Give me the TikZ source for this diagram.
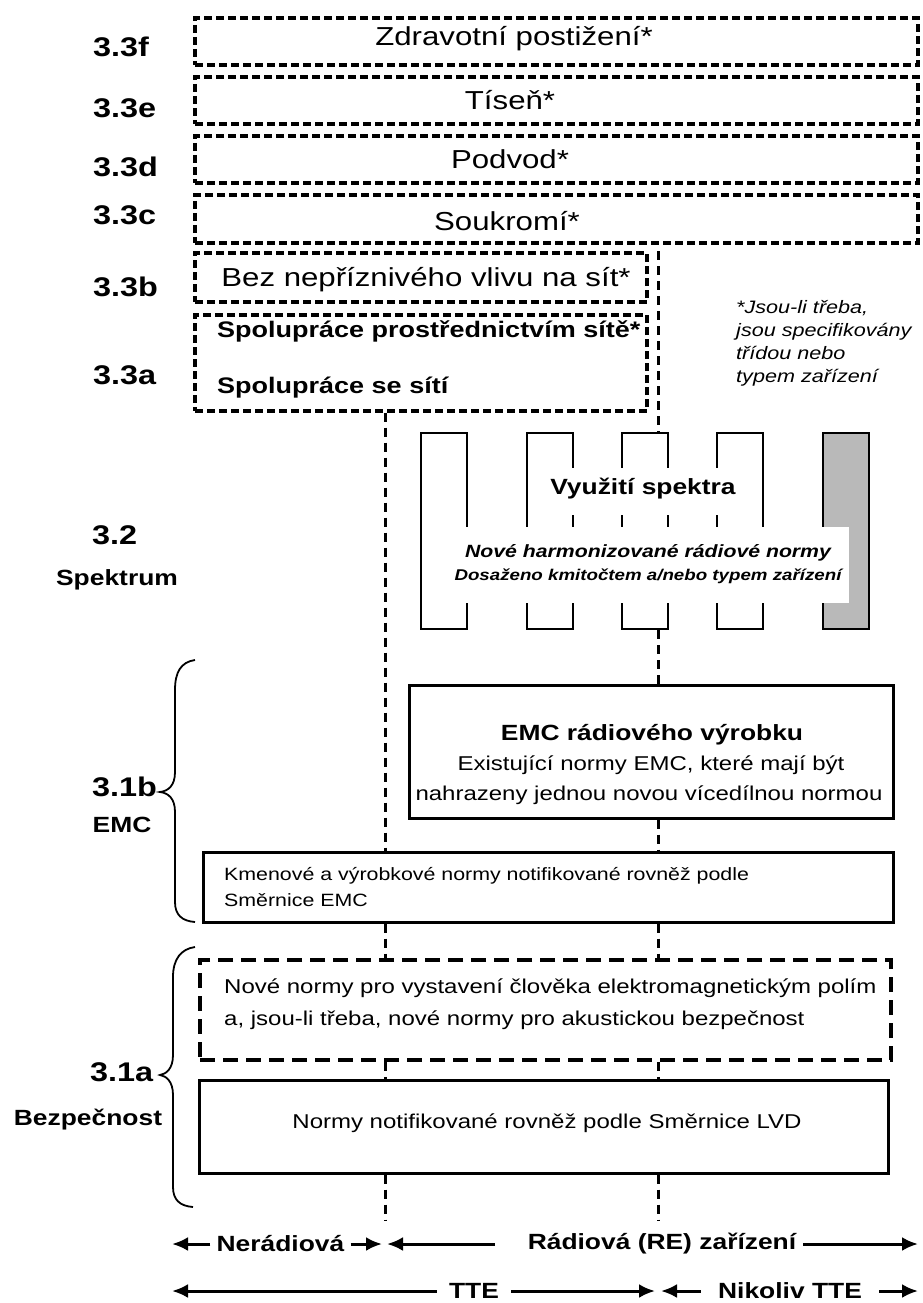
\documentclass[tikz,border=0pt]{standalone}
\usepackage{fontspec}
\setmainfont{Liberation Sans}[FakeStretch=1.2]
\usetikzlibrary{arrows.meta}
\newcommand{\fsz}[1]{\fontsize{#1}{#1}\selectfont}
\begin{document}
\begin{tikzpicture}[x=1pt,y=-1pt,>={Latex[length=16pt,width=14pt]},
	lbl/.style={font=\fsz{27}\bfseries,anchor=west,inner sep=0pt},
	sublbl/.style={font=\fsz{22}\bfseries,inner sep=0pt},
	dbox/.style={draw,line width=3.2pt,dash pattern=on 8pt off 4pt,inner sep=0pt},
	nbox/.style={draw,line width=3.5pt,dash pattern=on 15pt off 8pt,inner sep=0pt},
	sbox/.style={draw,line width=3pt,inner sep=0pt},
	conn/.style={line width=3pt,dash pattern=on 9pt off 6pt},
	col/.style={draw,line width=2.8pt,minimum width=46pt,minimum height=196pt,inner sep=0pt},
	mask/.style={fill=white,inner sep=0pt},
	txt/.style={inner sep=0pt},
	btm/.style={font=\fsz{22}\bfseries,inner ysep=0pt},
	arw/.style={->,line width=3pt}]
	\useasboundingbox (0,0) rectangle (922,1303);
	\coordinate (lx) at (385,0); \coordinate (rx) at (658,0);
	\node[lbl] (l3f) at (93,47) {3.3f};
	\node[lbl] (l3e) at (93,108) {3.3e};
	\node[lbl] (l3d) at (93,167) {3.3d};
	\node[lbl] (l3c) at (93,215) {3.3c};
	\node[lbl] (l3b) at (93,287) {3.3b};
	\node[lbl] (l3a) at (93,375) {3.3a};
	\node[lbl] (l32) at (92,535) {3.2};
	\node[sublbl] (lspk) at (117,580) {Spektrum};
	\node[lbl] (l31b) at (92,787) {3.1b};
	\node[sublbl] (lemc) at (122,825) {EMC};
	\node[lbl] (l31a) at (90,1072) {3.1a};
	\node[sublbl] (lbez) at (88,1120) {Bezpečnost};
	\node[dbox,minimum width=723pt,minimum height=47pt] (hlth) at (556.5,41.5) {};
	\node[txt,font=\fsz{26}] (hlthT) at (514,39) {Zdravotní postižení*};
	\node[dbox,minimum width=723pt,minimum height=47pt] (dist) at (556.5,100.5) {};
	\node[txt,font=\fsz{26}] (distT) at (510,100) {Tíseň*};
	\node[dbox,minimum width=723pt,minimum height=47pt] (frd) at (556.5,159.5) {};
	\node[txt,font=\fsz{26}] (frdT) at (510,159) {Podvod*};
	\node[dbox,minimum width=723pt,minimum height=48pt] (priv) at (556.5,219) {};
	\node[txt,font=\fsz{26}] (privT) at (507,221) {Soukromí*};
	\node[dbox,minimum width=452pt,minimum height=49pt] (harm) at (421,277.5) {};
	\node[txt,font=\fsz{26}] (harmT) at (426,280) {Bez nepříznivého vlivu na sít*};
	\node[dbox,minimum width=452pt,minimum height=96pt] (intw) at (421,363) {};
	\node[txt,font=\fsz{22.5}\bfseries,anchor=west] (intwT) at (217,331) {Spolupráce prostřednictvím sítě*};
	\node[txt,font=\fsz{22.5}\bfseries,anchor=west] (intnT) at (217,388) {Spolupráce se sítí};
	\node[txt,anchor=west,align=left,font=\fontsize{18}{23}\selectfont\itshape] (note) at (736,343) {*Jsou-li třeba,\\jsou specifikovány\\třídou nebo\\typem zařízení};
	\foreach \n/\cx in {1/444,2/550,3/645,4/740}{\node[col] (c\n) at (\cx,531) {};}
	\node[col,fill=gray!55] (c5) at (846,531) {};
	\node[mask,minimum width=190pt,minimum height=47pt] (m1) at (655,491.5) {};
	\node[mask,minimum width=389pt,minimum height=76pt] (m2) at (654.5,565) {};
	\node[txt,font=\fsz{22}\bfseries] (spk) at (643,489) {Využití spektra};
	\node[txt,font=\fsz{17.7}\bfseries\itshape] (spk1) at (648,553) {Nové harmonizované rádiové normy};
	\node[txt,font=\fsz{15.6}\bfseries\itshape] (spk2) at (648,576) {Dosaženo kmitočtem a/nebo typem zařízení};
	\node[sbox,minimum width=484pt,minimum height=133pt] (emc) at (651,751.5) {};
	\node[txt,font=\fsz{22}\bfseries] (emcT) at (652,735) {EMC rádiového výrobku};
	\node[txt,font=\fsz{20}] (emc1) at (651,765) {Existující normy EMC, které mají být};
	\node[txt,font=\fsz{20}] (emc2) at (649,795) {nahrazeny jednou novou vícedílnou normou};
	\node[sbox,minimum width=690pt,minimum height=70pt] (kmen) at (548,887) {};
	\node[txt,anchor=west,align=left,font=\fontsize{17.8}{26}\selectfont] (kmenT) at (224,887) {Kmenové a výrobkové normy notifikované rovněž podle\\Směrnice EMC};
	\node[nbox,minimum width=691pt,minimum height=100pt] (nove) at (545.5,1010) {};
	\node[txt,anchor=west,align=left,font=\fontsize{20}{32}\selectfont] (noveT) at (224,1004) {Nové normy pro vystavení člověka elektromagnetickým polím\\a, jsou-li třeba, nové normy pro akustickou bezpečnost};
	\node[sbox,minimum width=689pt,minimum height=93pt] (lvd) at (543.5,1126.5) {};
	\node[txt,font=\fsz{20}] (lvdT) at (547,1123) {Normy notifikované rovněž podle Směrnice LVD};
	\coordinate (lend) at (385,1220); \coordinate (rend) at (658,1220);
	\draw[conn] (harm.north -| rx)--(c3.north -| rx);
	\draw[conn] (c3.south -| rx)--(emc.north -| rx);
	\draw[conn] (emc.south -| rx)--(kmen.north -| rx);
	\draw[conn] (intw.south -| lx)--(kmen.north -| lx);
	\foreach \v in {lx,rx}{
		\draw[conn] (kmen.south -| \v)--(nove.north -| \v);
		\draw[conn] (nove.south -| \v)--(lvd.north -| \v);}
	\draw[conn] (lvd.south -| lend)--(lend);
	\draw[conn] (lvd.south -| rend)--(rend);
	\draw[line width=1.8pt] (195,660) .. controls (181,662) and (175,672) .. (175,690)--(175,772) .. controls (175,786) and (168,791) .. (160,792) .. controls (168,793) and (175,798) .. (175,812)--(175,902) .. controls (175,915) and (182,921) .. (195,922);
	\draw[line width=1.8pt] (195,947) .. controls (181,949) and (173,959) .. (173,977)--(173,1055) .. controls (173,1069) and (166,1074) .. (160,1075) .. controls (166,1076) and (173,1081) .. (173,1095)--(173,1187) .. controls (173,1200) and (180,1206) .. (193,1207);
	\node[btm,inner xsep=6pt] (nr) at (280.5,1244) {Nerádiová};
	\node[btm,inner xsep=7pt] (rd) at (662,1244) {Rádiová (RE) zařízení};
	\coordinate (nrL) at (172,1244); \coordinate (nrR) at (382,1244);
	\coordinate (rdL) at (387,1244); \coordinate (rdS) at (495,1244); \coordinate (rdR) at (918,1244);
	\draw[arw] (nr.west)--(nrL); \draw[arw] (nr.east)--(nrR);
	\draw[arw] (rdS)--(rdL); \draw[arw] (rd.east)--(rdR);
	\node[btm,inner xsep=12pt] (tte) at (474,1291) {TTE};
	\node[btm,inner xsep=17pt] (ntte) at (790,1291) {Nikoliv TTE};
	\coordinate (tteL) at (172,1291); \coordinate (tteR) at (655,1291);
	\coordinate (ntL) at (661,1291); \coordinate (ntR) at (918,1291);
	\draw[arw] (tte.west)--(tteL); \draw[arw] (tte.east)--(tteR);
	\draw[arw] (ntte.west)--(ntL); \draw[arw] (ntte.east)--(ntR);
\end{tikzpicture}
\end{document}
